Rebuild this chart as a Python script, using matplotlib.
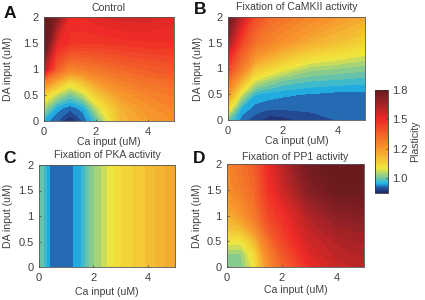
import matplotlib
matplotlib.use('Agg')
import matplotlib.pyplot as plt
import numpy as np
from matplotlib.colors import FuncNorm, LinearSegmentedColormap
from matplotlib.cm import ScalarMappable

plt.rcParams['font.family'] = ['Liberation Sans', 'DejaVu Sans']

ca = [0, 0.5, 1, 1.5, 2, 3, 4, 5]
da = [0, 0.25, 0.5, 0.75, 1, 1.5, 2]

# plasticity, one row per DA value
control = [
    [0.96, 0.935, 0.90, 0.935, 0.985, 1.15, 1.19, 1.22],
    [1.03, 0.96, 0.94, 0.96, 1.04, 1.16, 1.21, 1.25],
    [1.10, 1.04, 1.00, 1.04, 1.11, 1.20, 1.25, 1.28],
    [1.25, 1.16, 1.09, 1.13, 1.19, 1.26, 1.30, 1.32],
    [1.62, 1.35, 1.25, 1.27, 1.29, 1.33, 1.36, 1.38],
    [1.85, 1.52, 1.47, 1.46, 1.46, 1.47, 1.48, 1.48],
    [1.90, 1.70, 1.50, 1.51, 1.53, 1.55, 1.55, 1.52],
]
camkii = [
    [1.00, 0.94, 0.925, 0.905, 0.91, 0.925, 0.935, 0.935],
    [1.10, 0.97, 0.945, 0.94, 0.94, 0.94, 0.94, 0.94],
    [1.20, 1.05, 0.97, 0.96, 0.955, 0.95, 0.945, 0.945],
    [1.30, 1.15, 1.05, 1.02, 1.00, 0.985, 0.98, 0.975],
    [1.42, 1.27, 1.13, 1.10, 1.07, 1.03, 1.02, 1.01],
    [1.65, 1.42, 1.30, 1.25, 1.21, 1.16, 1.13, 1.10],
    [1.80, 1.58, 1.40, 1.33, 1.30, 1.24, 1.20, 1.17],
]
pka_row = [1.01, 0.94, 0.938, 0.965, 1.02, 1.09, 1.13, 1.18]
pp1 = [
    [1.00, 1.01, 1.07, 1.22, 1.33, 1.50, 1.57, 1.60],
    [1.02, 1.02, 1.09, 1.25, 1.37, 1.53, 1.60, 1.62],
    [1.07, 1.07, 1.14, 1.30, 1.42, 1.56, 1.62, 1.65],
    [1.12, 1.14, 1.22, 1.37, 1.45, 1.59, 1.66, 1.68],
    [1.16, 1.20, 1.28, 1.42, 1.48, 1.62, 1.70, 1.72],
    [1.22, 1.27, 1.33, 1.47, 1.56, 1.72, 1.80, 1.80],
    [1.25, 1.30, 1.36, 1.50, 1.60, 1.78, 1.85, 1.85],
]
pka = [pka_row for _ in da]

titles = ['Control', 'Fixation of CaMKII activity',
          'Fixation of PKA activity', 'Fixation of PP1 activity']
letters = ['A', 'B', 'C', 'D']
panels = [control, camkii, pka, pp1]
cbar_ticks = [1.0, 1.2, 1.5, 1.8]

# colorbar is not linear: ticks sit evenly, 1.0 to 1.2 as long as 1.5 to 1.8
scale_val = [0.9, 1.0, 1.2, 1.5, 1.8]
scale_pos = [0.0, 0.145, 0.43, 0.716, 1.0]
norm = FuncNorm((lambda v: np.interp(v, scale_val, scale_pos),
                 lambda p: np.interp(p, scale_pos, scale_val)),
                vmin=0.9, vmax=1.8)
cmap = LinearSegmentedColormap.from_list('plast', [
    (0.00, '#1f2a66'), (0.05, '#2456a4'), (0.09, '#22b4e6'),
    (0.145, '#72c6a0'), (0.24, '#f1e63c'), (0.43, '#f7982c'),
    (0.716, '#ee2a26'), (0.90, '#8f2126'), (1.00, '#6b1a1e')], N=256)
levels = np.interp(np.linspace(0, 1, 41), scale_pos, scale_val)

# layout in pixels of the 425x300 picture
W, H = 425, 300
boxes = [(44, 17, 174, 121), (228, 17, 365, 120),
         (39, 165, 175, 267), (227, 164, 364, 267)]
letter_pos = [(4, 18), (194, 14), (3, 163), (193, 163)]
title_y = [8, 7, 155, 157]
xlabel_y = [142, 141, 292, 290]
ylabel_x = [8, 198, 8, 197]
text_col = '#404040'
fs = 7.6

fig = plt.figure(figsize=(4.25, 3), dpi=100)

for i in range(4):
    x0, y0, x1, y1 = boxes[i]
    ax = fig.add_axes([x0 / W, 1 - y1 / H, (x1 - x0) / W, (y1 - y0) / H])
    ax.contourf(ca, da, panels[i], levels=levels, cmap=cmap, norm=norm, extend='both')
    ax.set_xticks([0, 2, 4])
    ax.set_yticks([0, 0.5, 1, 1.5, 2])
    ax.set_yticklabels(['0', '0.5', '1', '1.5', '2'])
    ax.tick_params(labelsize=8, length=1.5, width=0.5, direction='in', pad=4, colors=text_col)
    for s in ax.spines.values():
        s.set_linewidth(0.6)
        s.set_color('#555555')

    xc = (x0 + x1) / 2 / W
    yc = 1 - (y0 + y1) / 2 / H
    fig.text(xc, 1 - title_y[i] / H, titles[i], fontsize=fs, color=text_col, ha='center', va='center')
    fig.text(xc, 1 - xlabel_y[i] / H, 'Ca input (uM)', fontsize=fs, color=text_col, ha='center', va='center')
    fig.text(ylabel_x[i] / W, yc, 'DA input (uM)', fontsize=fs, color=text_col,
             rotation=90, ha='center', va='center')
    fig.text(letter_pos[i][0] / W, 1 - letter_pos[i][1] / H, letters[i],
             fontsize=12.5, fontweight='bold', color='#111111', va='baseline')

cax = fig.add_axes([375 / W, 1 - 193 / H, 13 / W, 103 / H])
cb = fig.colorbar(ScalarMappable(norm=norm, cmap=cmap), cax=cax, ticks=cbar_ticks)
cb.ax.set_yticklabels(['1.0', '1.2', '1.5', '1.8'])
cb.ax.minorticks_off()
cb.ax.tick_params(labelsize=8, length=1.5, width=0.5, direction='in', pad=3, colors=text_col)
cb.set_label('Plasticity', fontsize=fs, color=text_col, labelpad=2)
cb.outline.set_linewidth(0.6)
cb.outline.set_edgecolor('#333333')

fig.savefig('out.png', dpi=100)
